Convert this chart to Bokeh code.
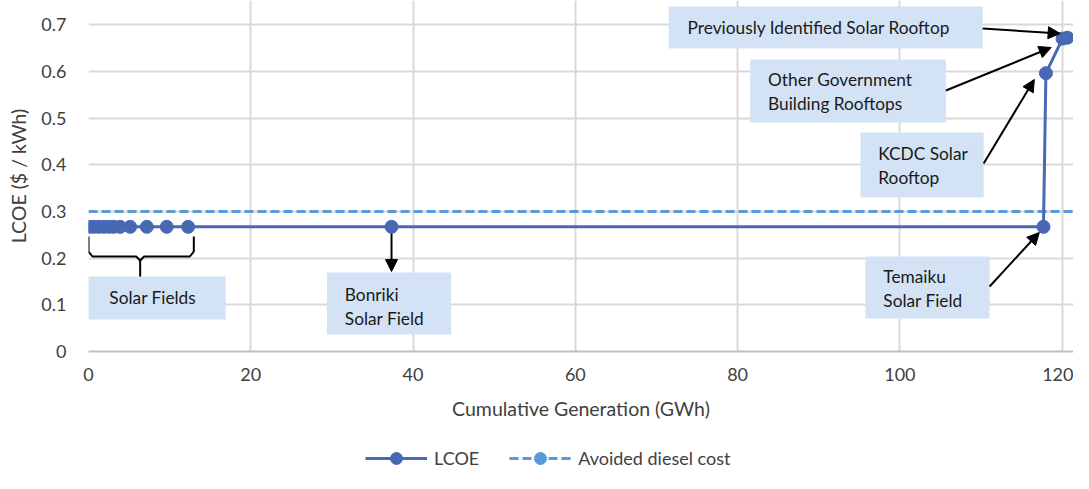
from bokeh.plotting import figure
from bokeh.layouts import column
from bokeh.models import (Range1d, FixedTicker, Legend, LegendItem, Arrow,
                          NormalHead, NumeralTickFormatter, ColumnDataSource)
from bokeh.core.properties import value
from bokeh.embed import file_html
from bokeh.resources import INLINE

# ---------------- data ----------------
lcoe_gen = [0.1, 0.65, 1.26, 1.87, 2.49, 3.1, 3.9, 5.14, 7.19, 9.64, 12.28,
            37.35, 117.7, 118.0, 120.05, 120.65]
lcoe_val = [0.267, 0.267, 0.267, 0.267, 0.267, 0.267, 0.267, 0.267, 0.267,
            0.267, 0.267, 0.267, 0.267, 0.596, 0.670, 0.672]
diesel_gen = [0, 121.6]
diesel_val = [0.30, 0.30]

x_ticks = [0, 20, 40, 60, 80, 100, 120]
y_ticks = [0, 0.1, 0.2, 0.3, 0.4, 0.5, 0.6, 0.7]

series_names = ["LCOE", "Avoided diesel cost"]
x_title = "Cumulative Generation (GWh)"
y_title = "LCOE ($ / kWh)"

# ---------------- layout helpers (reference pixel -> data) ----------------
X0_PX, PX_PER_X = 88.0, 8.1667
Y0_PX, PX_PER_Y = 351.0, 467.0


def dx(px):
    return (px - X0_PX) / PX_PER_X


def dy(py):
    return (Y0_PX - py) / PX_PER_Y


FONT = "Lato"
LCOE_COLOR = "#4868B4"
DIESEL_COLOR = "#5B9BD5"
GRID = "#D9D9D9"
TXT = "#404040"
BOX = "#D3E3F5"

W = 1073
MAIN_H = 440
p = figure(width=W, height=MAIN_H, output_backend="svg", toolbar_location=None,
           x_range=Range1d(0, 121.4), y_range=Range1d(0, dy(0)),
           min_border_left=88, min_border_right=0, min_border_top=0,
           min_border_bottom=MAIN_H - 351)
p.outline_line_color = None
p.background_fill_color = "white"
p.border_fill_color = "white"

# grid
p.xgrid.ticker = FixedTicker(ticks=x_ticks)
p.ygrid.ticker = FixedTicker(ticks=y_ticks)
p.xgrid.grid_line_color = GRID
p.ygrid.grid_line_color = GRID
p.xgrid.grid_line_width = 2
p.ygrid.grid_line_width = 2

# axes
p.xaxis.ticker = FixedTicker(ticks=x_ticks)
p.yaxis.ticker = FixedTicker(ticks=y_ticks)
p.yaxis.formatter = NumeralTickFormatter(format="0.[0]")
for ax in (p.xaxis[0], p.yaxis[0]):
    ax.major_tick_out = 0
    ax.major_tick_in = 0
    ax.minor_tick_out = 0
    ax.minor_tick_in = 0
    ax.major_label_text_font = FONT
    ax.major_label_text_font_size = "18px"
    ax.major_label_text_color = TXT
    ax.axis_label_text_font = FONT
    ax.axis_label_text_font_size = "19.5px"
    ax.axis_label_text_font_style = "normal"
    ax.axis_label_text_color = TXT
p.xaxis.axis_label = x_title
p.yaxis.axis_label = y_title
p.xaxis.axis_line_color = "#BFBFBF"
p.xaxis.axis_line_width = 2
p.yaxis.axis_line_color = None
p.xaxis.major_label_standoff = 16
p.xaxis.axis_label_standoff = 13
p.yaxis.major_label_standoff = 22
p.yaxis.axis_label_standoff = 8

# ---------------- annotation boxes (pixel layout) ----------------
boxes = [
    # left, right, top, bottom, [(text, x_px, y_px), ...]
    (87, 226, 276, 319, [("Solar Fields", 109, 297)]),
    (328, 453, 272, 334, [("Bonriki", 346, 294), ("Solar Field", 346, 318)]),
    (870, 995, 256, 318, [("Temaiku", 888, 276), ("Solar Field", 888, 300)]),
    (865, 989, 132, 197, [("KCDC Solar", 883, 153), ("Rooftop", 883, 177)]),
    (754, 951, 59, 122, [("Other Government", 772, 79), ("Building Rooftops", 772, 103)]),
    (672, 988, 6, 48, [("Previously Identified Solar Rooftop", 691, 27)]),
]
p.quad(left=[dx(b[0]) for b in boxes], right=[dx(b[1]) for b in boxes],
       top=[dy(b[2]) for b in boxes], bottom=[dy(b[3]) for b in boxes],
       fill_color=BOX, line_color=None)
tx, ty, tt = [], [], []
for b in boxes:
    for (t, x, y) in b[4]:
        tx.append(dx(x)); ty.append(dy(y)); tt.append(t)
p.text(x=tx, y=ty, text=tt, text_font=value(FONT), text_font_size="17.3px",
       text_color="#1A1A1A", text_baseline="middle", text_align="left")

# brace under the solar field cluster
brace_px = [(88, 236), (88, 251), (92, 256), (136, 256), (140, 260),
            (144, 256), (190, 256), (194, 251), (194, 236)]
p.line(x=[dx(a) for a, _ in brace_px], y=[dy(b) for _, b in brace_px],
       line_color="black", line_width=2)
p.line(x=[dx(140), dx(140)], y=[dy(260), dy(276)], line_color="black", line_width=2)

# ---------------- series ----------------
p.line(diesel_gen, diesel_val, line_color=DIESEL_COLOR, line_width=3, line_dash="9 4")
src = ColumnDataSource(dict(x=lcoe_gen, y=lcoe_val))
p.line("x", "y", source=src, line_color=LCOE_COLOR, line_width=3)
p.scatter("x", "y", source=src, size=13, fill_color=LCOE_COLOR, line_color=LCOE_COLOR)

# ---------------- arrows (pixel layout) ----------------
arrows = [
    (393, 233, 393, 271),
    (995, 286, 1045, 232),
    (989, 163, 1040, 79),
    (951, 90, 1057, 47),
    (988, 28, 1066, 33),
]
for (x0, y0, x1, y1) in arrows:
    p.add_layout(Arrow(end=NormalHead(size=12, fill_color="black", line_color="black"),
                       x_start=dx(x0), y_start=dy(y0), x_end=dx(x1), y_end=dy(y1),
                       line_color="black", line_width=2))

# ---------------- legend strip ----------------
LEG_H = 473 - MAIN_H
lf = figure(width=W, height=LEG_H, output_backend="svg", toolbar_location=None,
            x_range=Range1d(0, 1), y_range=Range1d(0, 1),
            min_border=0, min_border_left=0, min_border_right=0,
            min_border_top=0, min_border_bottom=0)
lf.axis.visible = False
lf.grid.visible = False
lf.outline_line_color = None
nan = float("nan")
l1 = lf.line([nan], [nan], line_color=LCOE_COLOR, line_width=3)
s1 = lf.scatter([nan], [nan], size=13, fill_color=LCOE_COLOR, line_color=LCOE_COLOR)
l2 = lf.line([nan], [nan], line_color=DIESEL_COLOR, line_width=3, line_dash="9 4")
s2 = lf.scatter([nan], [nan], size=13, fill_color=DIESEL_COLOR, line_color=DIESEL_COLOR)
legend = Legend(items=[LegendItem(label=series_names[0], renderers=[l1, s1]),
                       LegendItem(label=series_names[1], renderers=[l2, s2])],
                orientation="horizontal", location=(277, 0),
                glyph_width=62, glyph_height=30, spacing=30, padding=0, margin=0,
                label_standoff=7,
                label_text_font=FONT, label_text_font_size="18px",
                label_text_color=TXT, border_line_color=None,
                background_fill_alpha=0)
lf.add_layout(legend)

open("out.html", "w").write(file_html(column(p, lf, spacing=0), INLINE))
